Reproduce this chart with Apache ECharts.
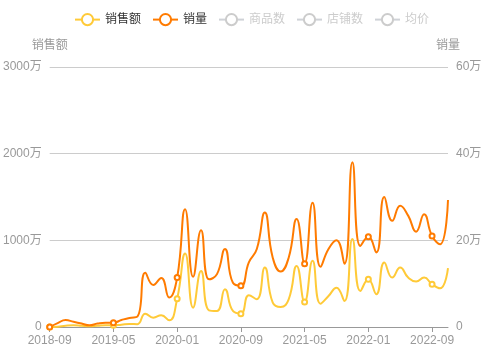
<!DOCTYPE html>
<html>
<head>
<meta charset="utf-8">
<script src="https://cdn.jsdelivr.net/npm/echarts@6/dist/echarts.min.js"></script>
<style>
    html, body {margin: 0; padding: 0; background: #fff;}
    #main {width: 503px; height: 357px;}
</style>
</head>
<body>
<div id="main"></div>
<script>
// 月份 2018-09 ~ 2022-11
var aMonths = [
    '2018-09', '2018-10', '2018-11', '2018-12', '2019-01', '2019-02', '2019-03', '2019-04',
    '2019-05', '2019-06', '2019-07', '2019-08', '2019-09', '2019-10', '2019-11', '2019-12',
    '2020-01', '2020-02', '2020-03', '2020-04', '2020-05', '2020-06', '2020-07', '2020-08',
    '2020-09', '2020-10', '2020-11', '2020-12', '2021-01', '2021-02', '2021-03', '2021-04',
    '2021-05', '2021-06', '2021-07', '2021-08', '2021-09', '2021-10', '2021-11', '2021-12',
    '2022-01', '2022-02', '2022-03', '2022-04', '2022-05', '2022-06', '2022-07', '2022-08',
    '2022-09', '2022-10', '2022-11'
];
// 销售额(万)
var aSales = [
    0, 4, 15, 20, 15, 10, 15, 20,
    20, 27, 35, 33, 154, 108, 135, 77,
    327, 848, 223, 647, 193, 185, 436, 185,
    154, 366, 320, 686, 281, 231, 320, 705,
    289, 763, 269, 358, 454, 300, 1014, 416,
    551, 378, 743, 570, 686, 570, 524, 570,
    493, 447, 679
];
// 销量(万)
var aVolume = [
    0, 0.9, 1.6, 1.2, 0.8, 0.4, 0.8, 1.0,
    1.0, 1.6, 2.1, 2.4, 12.5, 9.7, 11.3, 6.8,
    11.4, 27.2, 11.6, 22.3, 11.0, 12.2, 18.0, 10.2,
    9.5, 14.9, 18.0, 26.4, 16.0, 12.8, 16.0, 24.9,
    14.6, 28.7, 13.9, 18.0, 20.0, 14.6, 38.0, 18.7,
    20.8, 17.2, 30.0, 24.5, 28.0, 25.7, 22.0, 26.0,
    21.0, 19.1, 29.3
];
// 未选中的系列
var aGoods = [];
var aShops = [];
var aPrice = [];

var sFont = "'Liberation Sans', 'Noto Sans CJK SC', sans-serif";

function WanLabel(value) {
    return value === 0 ? '0' : value + '万';
}

var jOption = {
    textStyle: {fontFamily: sFont},
    color: ['#ffca38', '#ff7b00', '#c9c9c9', '#c9c9c9', '#c9c9c9'],
    legend: {
        top: 8,
        left: 'center',
        itemGap: 11,
        itemStyle: {borderWidth: 1},
        data: ['销售额', '销量', '商品数', '店铺数', '均价'],
        selected: {'商品数': false, '店铺数': false, '均价': false},
        textStyle: {color: '#333', fontSize: 12, fontFamily: sFont},
        inactiveColor: '#ccc'
    },
    grid: {left: 48, right: 55, top: 67, bottom: 30, containLabel: false},
    xAxis: {
        type: 'category',
        boundaryGap: false,
        data: aMonths,
        axisLine: {lineStyle: {color: '#999'}},
        axisTick: {show: true, interval: 7, lineStyle: {color: '#999'}},
        axisLabel: {interval: 7, color: '#999', fontSize: 12, margin: 8}
    },
    yAxis: [
        {
            type: 'value',
            name: '销售额',
            min: 0,
            max: 3000,
            interval: 1000,
            nameTextStyle: {color: '#999', fontSize: 12},
            axisLine: {show: false},
            axisTick: {show: false},
            axisLabel: {color: '#999', fontSize: 12, formatter: WanLabel},
            splitLine: {lineStyle: {color: '#ccc'}}
        },
        {
            type: 'value',
            name: '销量',
            min: 0,
            max: 60,
            interval: 20,
            nameTextStyle: {color: '#999', fontSize: 12},
            axisLine: {show: false},
            axisTick: {show: false},
            axisLabel: {color: '#999', fontSize: 12, formatter: WanLabel},
            splitLine: {show: false}
        }
    ],
    series: [
        {
            name: '销售额', type: 'line', smooth: true, yAxisIndex: 0,
            symbol: 'emptyCircle', symbolSize: 5, showAllSymbol: false,
            itemStyle: {borderWidth: 1},
            lineStyle: {width: 2},
            data: aSales
        },
        {
            name: '销量', type: 'line', smooth: true, yAxisIndex: 1,
            symbol: 'emptyCircle', symbolSize: 5, showAllSymbol: false,
            itemStyle: {borderWidth: 1},
            lineStyle: {width: 2},
            data: aVolume
        },
        {name: '商品数', type: 'line', smooth: true, yAxisIndex: 1, itemStyle: {borderWidth: 1}, data: aGoods},
        {name: '店铺数', type: 'line', smooth: true, yAxisIndex: 1, itemStyle: {borderWidth: 1}, data: aShops},
        {name: '均价', type: 'line', smooth: true, yAxisIndex: 0, itemStyle: {borderWidth: 1}, data: aPrice}
    ]
};

var myChart = echarts.init(document.getElementById('main'));
myChart.setOption(jOption);
</script>
</body>
</html>
